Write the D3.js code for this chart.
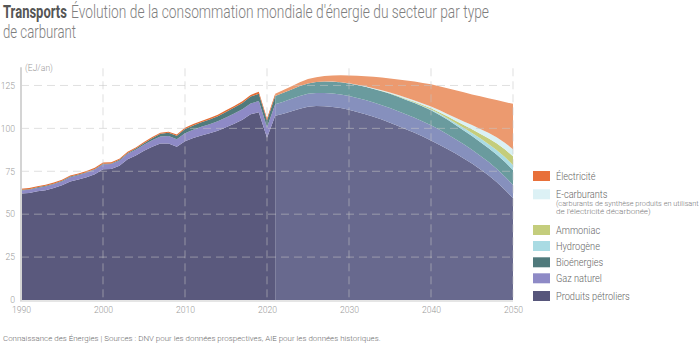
<!DOCTYPE html>
<html><head><meta charset="utf-8">
<script src="https://cdn.jsdelivr.net/npm/d3@7"></script>
<style>
html,body{margin:0;padding:0;background:#fff;}
svg{display:block;font-family:Roboto,"Noto Sans",sans-serif;}
</style></head>
<body><svg id="chart" width="700" height="344"></svg>
<script>
const years = [1990,1991,1992,1993,1994,1995,1996,1997,1998,1999,2000,2001,2002,2003,2004,2005,2006,2007,2008,2009,2010,2011,2012,2013,2014,2015,2016,2017,2018,2019,2020,2021,2022,2023,2024,2025,2026,2027,2028,2029,2030,2031,2032,2033,2034,2035,2036,2037,2038,2039,2040,2041,2042,2043,2044,2045,2046,2047,2048,2049,2050];
const lastHistoricalYear = 2021;
const petroleum = [62.0,62.3,63.3,64.0,65.2,66.8,69.0,70.2,71.5,73.3,76.2,76.3,78.2,82.0,84.2,86.9,89.3,91.2,91.2,89.3,92.5,94.4,95.9,97.1,98.6,100.6,102.7,105.0,108.2,109.4,94.5,107.3,
  108.5,110.0,111.5,112.6,113.0,112.9,112.5,111.8,110.8,109.6,108.3,106.8,105.1,103.3,101.4,99.4,97.4,95.2,93.0,90.5,88.0,85.3,82.5,79.5,76.2,72.7,68.8,64.3,59.3];
const naturalGas = [1.8,1.9,2.0,2.1,2.2,2.3,2.5,2.5,2.6,2.7,2.8,2.9,3.0,3.2,3.4,3.6,3.8,4.1,4.3,4.3,4.6,4.8,5.0,5.3,5.5,5.7,5.9,6.1,6.3,6.5,6.2,6.8,
  7.0,7.2,7.4,7.5,7.6,7.7,7.8,7.9,8.0,8.1,8.2,8.3,8.4,8.5,8.6,8.7,8.8,8.8,8.8,8.8,8.6,8.4,8.2,8.0,7.9,7.8,7.7,7.7,7.7];
const bioenergy = [0.4,0.4,0.4,0.4,0.4,0.4,0.4,0.4,0.4,0.4,0.4,0.4,0.45,0.5,0.6,0.8,1.2,1.5,1.9,2.1,2.5,2.5,2.6,2.8,3.0,3.3,3.5,3.7,4.0,4.3,3.9,4.8,
  5.2,5.5,5.8,6.1,6.4,6.7,6.9,7.1,7.3,7.5,7.7,7.9,8.1,8.3,8.4,8.5,8.6,8.7,8.8,8.7,8.5,8.3,8.1,8.0,8.0,8.1,8.3,8.5,8.7];
const hydrogen = [0,0,0,0,0,0,0,0,0,0,0,0,0,0,0,0,0,0,0,0,0,0,0,0,0,0,0,0,0,0,0,0,
  0,0,0,0,0,0,0,0,0,0.02,0.05,0.08,0.1,0.15,0.2,0.25,0.3,0.35,0.45,0.6,0.8,1.1,1.4,1.8,2.1,2.3,2.6,2.8,3.0];
const ammonia = [0,0,0,0,0,0,0,0,0,0,0,0,0,0,0,0,0,0,0,0,0,0,0,0,0,0,0,0,0,0,0,0,
  0,0,0,0,0,0,0,0,0,0,0.02,0.05,0.1,0.15,0.2,0.3,0.4,0.5,0.65,0.85,1.1,1.4,1.8,2.2,2.7,3.3,3.9,4.5,5.1];
const eFuels = [0,0,0,0,0,0,0,0,0,0,0,0,0,0,0,0,0,0,0,0,0,0,0,0,0,0,0,0,0,0,0,0,
  0,0,0,0,0,0,0.05,0.1,0.15,0.2,0.25,0.3,0.4,0.5,0.6,0.7,0.8,0.9,1.0,1.2,1.4,1.7,2.0,2.4,2.8,3.2,3.5,3.8,4.1];
const electricity = [0.6,0.6,0.6,0.6,0.6,0.6,0.6,0.6,0.6,0.65,0.7,0.7,0.7,0.7,0.7,0.7,0.7,0.7,0.7,0.7,0.8,0.8,0.8,0.8,0.9,0.9,0.9,1.0,1.0,1.1,1.2,1.3,
  1.6,1.9,2.2,2.5,2.8,3.2,3.6,4.1,4.6,5.2,5.9,6.6,7.4,8.2,9.1,10.0,11.0,12.0,13.0,13.85,15.0,16.0,17.0,17.9,19.0,20.2,21.7,23.8,26.4];

const seriesKeys = ["petroleum","gas","bio","hydrogen","ammonia","efuels","electricity"];
const seriesLabels = ["Produits pétroliers","Gaz naturel","Bioénergies","Hydrogène","Ammoniac","E-carburants","Électricité"];
const histColors = ["#5a597d","#8e8ac6","#507a7c","#a9dbe3","#c4cd7c","#daf1f4","#e36b32"];
const futColors  = ["#68698e","#8690bd","#6a9b9e","#a9dbe3","#c4cd7c","#daf1f4","#ec9a6f"];
const legendColors = ["#57567b","#8e8ac6","#507a7c","#a9dbe3","#c4cd7c","#dcf1f5","#e8703a"];
const yTicks = [0,25,50,75,100,125];
const xTicks = [1990,2000,2010,2020,2030,2040,2050];

const svg = d3.select("#chart");
const x = d3.scaleLinear().domain([1990,2050]).range([21,513]);
const y = d3.scaleLinear().domain([0,135]).range([300,68.3]);

const arrays = [petroleum,naturalGas,bioenergy,hydrogen,ammonia,eFuels,electricity];
const table = years.map((yr,i)=>{ const o={year:yr}; seriesKeys.forEach((k,j)=>o[k]=arrays[j][i]); return o; });
const stacked = d3.stack().keys(seriesKeys)(table);
const area = d3.area().x(d=>x(d.data.year)).y0(d=>y(d[0])).y1(d=>y(d[1])).curve(d3.curveLinear);

const defs = svg.append("defs");
defs.append("clipPath").attr("id","clipHist").append("rect")
  .attr("x",x(1990)).attr("y",0).attr("width",x(lastHistoricalYear)-x(1990)).attr("height",310);
defs.append("clipPath").attr("id","clipFut").append("rect")
  .attr("x",x(lastHistoricalYear)).attr("y",0).attr("width",x(2050)-x(lastHistoricalYear)+0.5).attr("height",310);

const gH = svg.append("g").attr("clip-path","url(#clipHist)");
gH.selectAll("path").data(stacked).join("path").attr("d",area).attr("fill",(d,i)=>histColors[i]);
const gF = svg.append("g").attr("clip-path","url(#clipFut)");
gF.selectAll("path").data(stacked).join("path").attr("d",area).attr("fill",(d,i)=>futColors[i]);

// grid
const grid = svg.append("g").attr("stroke","#c4c4c4").attr("stroke-opacity",0.55).attr("stroke-dasharray","8,5");
grid.selectAll(".hg").data(yTicks.filter(t=>t>0)).join("line")
  .attr("x1",x(1990)).attr("x2",x(2050)).attr("y1",d=>y(d)).attr("y2",d=>y(d));
grid.selectAll(".vg").data(xTicks.filter(t=>t>1990)).join("line")
  .attr("x1",d=>x(d)).attr("x2",d=>x(d)).attr("y1",y(135)).attr("y2",y(0));

// axes lines
svg.append("line").attr("x1",x(1990)).attr("x2",x(1990)).attr("y1",y(135)-1).attr("y2",y(0)+1)
  .attr("stroke","#d4d4d4").attr("stroke-width",2);
svg.append("line").attr("x1",x(1990)-1).attr("x2",x(2050)).attr("y1",y(0)+1).attr("y2",y(0)+1)
  .attr("stroke","#dcdcdc").attr("stroke-width",1.5);

// condensed text: natural text scaled horizontally to a target width (or factor)
function ctext(parent, px, py, str, opts){
  const g = parent.append("g").attr("transform",`translate(${px},${py})`);
  const t = g.append("text").attr("x",0).attr("y",0)
    .attr("font-size",opts.size).attr("font-weight",opts.weight||300).attr("fill",opts.fill||"#666").text(str);
  const L = t.node().getComputedTextLength();
  const k = opts.width ? opts.width/L : (opts.k||0.84);
  g.attr("transform",`translate(${px},${py}) scale(${k},1)`);
  return t;
}

const yAxis = svg.append("g").attr("transform",`translate(${x(1990)-6},0)`)
  .call(d3.axisLeft(y).tickValues(yTicks).tickSize(0).tickPadding(0));
yAxis.select(".domain").remove();
yAxis.selectAll("text").attr("fill","#9a9a9a").attr("font-size",8.6).attr("font-family","Roboto").attr("font-weight",300);
const xAxis = svg.append("g").attr("transform",`translate(0,${y(0)+7})`)
  .call(d3.axisBottom(x).tickValues(xTicks).tickFormat(d3.format("d")).tickSize(0).tickPadding(0));
xAxis.select(".domain").remove();
xAxis.selectAll("text").attr("fill","#9a9a9a").attr("font-size",8.6).attr("font-family","Roboto").attr("font-weight",300);

svg.append("text").attr("x",25).attr("y",70.5).attr("fill","#9a9a9a").attr("font-size",8.6).attr("font-weight",300).text("(EJ/an)");

// title
ctext(svg,3,17.5,"Transports",{size:17.5,weight:700,fill:"#555",width:64});
ctext(svg,71,17.5,"Évolution de la consommation mondiale d'énergie du secteur par type",{size:17.5,weight:300,fill:"#7e7e7e",width:418});
ctext(svg,3,37.5,"de carburant",{size:17.5,weight:300,fill:"#7e7e7e",width:73});

// legend (top to bottom)
const legendOrder = [6,5,4,3,2,1,0];
const legendY = [176,194.3,230,246,262.3,278.3,296];
const lg = svg.append("g");
legendOrder.forEach((si,k)=>{
  lg.append("rect").attr("x",533).attr("y",legendY[k]-5).attr("width",17).attr("height",10).attr("fill",legendColors[si]);
  ctext(lg,556,legendY[k]+4,seriesLabels[si],{size:11,weight:300,fill:"#666",k:0.84});
});
ctext(lg,556,205.8,"(carburants de synthèse produits en utilisant",{size:7,weight:300,fill:"#777",width:143});
ctext(lg,556,214.2,"de l'électricité décarbonée)",{size:7,weight:300,fill:"#777",width:95});

// source
ctext(svg,3,341,"Connaissance des Énergies | Sources : DNV pour les données prospectives, AIE pour les données historiques.",{size:8,weight:300,fill:"#6e6e6e",width:378});
</script></body></html>
